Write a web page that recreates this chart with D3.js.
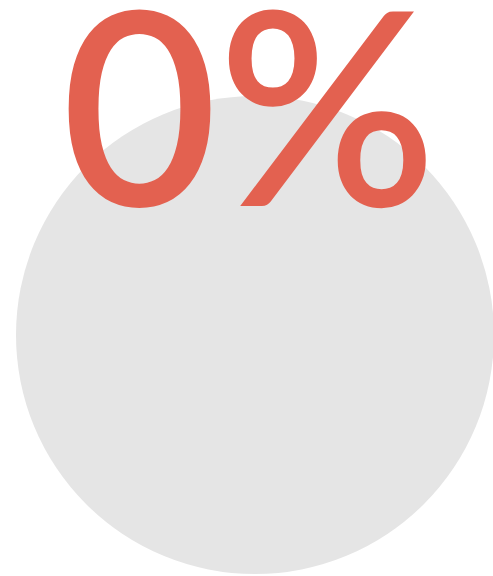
<!DOCTYPE html>
<html>
<head>
<meta charset="utf-8">
<script src="https://cdn.jsdelivr.net/npm/d3@7"></script>
<style>
html,body{margin:0;padding:0;background:#fff;}
svg{display:block;}
</style>
</head>
<body>
<svg id="chart" width="493" height="576"></svg>
<script>
const values = [0];
const labels = ["0%"];
const domainMax = [100];

const W = 493, H = 576;
const svg = d3.select("#chart");
const cx = 255, cy = 335, R = 239;

const fillScale = d3.scaleLinear().domain([0, domainMax[0]]).range([cy + R, cy - R]);

svg.append("circle")
  .attr("cx", cx).attr("cy", cy).attr("r", R)
  .attr("fill", "#e5e5e5");

// fill level (0 -> empty)
const level = fillScale(values[0]);
svg.append("clipPath").attr("id", "clip")
  .append("circle").attr("cx", cx).attr("cy", cy).attr("r", R);
svg.append("rect")
  .attr("clip-path", "url(#clip)")
  .attr("x", cx - R).attr("width", 2 * R)
  .attr("y", level).attr("height", Math.max(0, cy + R - level))
  .attr("fill", "#e36150");

svg.append("text")
  .attr("x", 249).attr("y", 206)
  .attr("text-anchor", "middle")
  .attr("font-family", "Lato")
  .attr("font-weight", 600)
  .attr("font-size", 270)
  .attr("fill", "#e36150")
  .text(labels[0]);
</script>
</body>
</html>
